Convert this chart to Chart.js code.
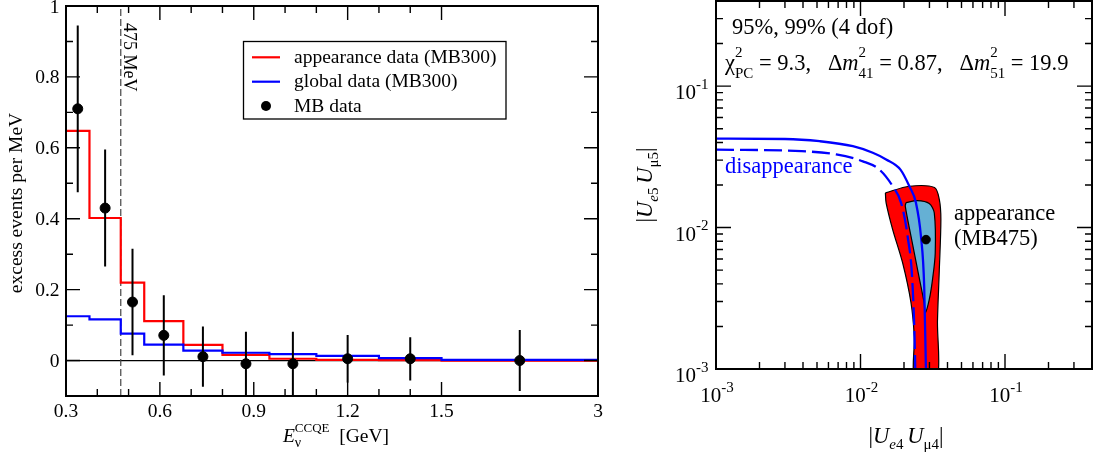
<!DOCTYPE html>
<html>
<head>
<meta charset="utf-8">
<script src="https://cdn.jsdelivr.net/npm/chart.js@4.4.0/dist/chart.umd.min.js"></script>
<style>
html, body { margin: 0; padding: 0; background: #fff; }
#wrap { position: relative; width: 1094px; height: 454px; overflow: hidden; }
#left { position: absolute; left: 0; top: 0; }
#right { position: absolute; left: 620px; top: 0; }
</style>
</head>
<body>
<div id="wrap">
<canvas id="left" width="620" height="454"></canvas>
<canvas id="right" width="474" height="454"></canvas>
</div>
<script>
// ---- left panel: MiniBooNE excess (GeV bins) ----
var binEdges = [0.3, 0.375, 0.475, 0.55, 0.675, 0.8, 0.95, 1.1, 1.3, 1.5, 3.0]
var appearance = [0.648, 0.402, 0.220, 0.111, 0.044, 0.016, 0.005, 0.002, 0.001, 0.0]
var globalFit = [0.125, 0.116, 0.076, 0.045, 0.028, 0.022, 0.018, 0.013, 0.007, 0.002]
var mbEnergy = [0.3375, 0.425, 0.5125, 0.6125, 0.7375, 0.875, 1.025, 1.2, 1.4, 2.25]
var mbExcess = [0.710, 0.430, 0.165, 0.071, 0.011, -0.009, -0.009, 0.005, 0.005, 0.0]
var mbError = [0.235, 0.165, 0.150, 0.113, 0.085, 0.09, 0.09, 0.067, 0.061, 0.086]
var cutE = 0.475
var xTickE = [0.3, 0.6, 0.9, 1.2, 1.5, 3]
var xTickText = ['0.3', '0.6', '0.9', '1.2', '1.5', '3']
var xMinorE = [0.4, 0.5, 0.7, 0.8, 1.0, 1.1, 1.3, 1.4]
var yTicks = [0, 0.2, 0.4, 0.6, 0.8, 1]
var yTickText = ['0', '0.2', '0.4', '0.6', '0.8', '1']
var yMinor = [0.1, 0.3, 0.5, 0.7, 0.9]

// ---- right panel: allowed regions ----
var red99X = [0.01487, 0.0218, 0.0325, 0.0351, 0.0360, 0.0351, 0.0341, 0.0336, 0.0239, 0.02355, 0.02237, 0.01957, 0.0167, 0.01504, 0.01487]
var red99Y = [0.0176, 0.0196, 0.0192, 0.0158, 0.0114, 0.0050, 0.0022, 0.0008, 0.0008, 0.0017, 0.00293, 0.00562, 0.00968, 0.01496, 0.0176]
var blue95X = [0.02065, 0.0247, 0.0299, 0.0324, 0.0329, 0.0315, 0.0299, 0.02805, 0.02759, 0.02483, 0.02237, 0.02041, 0.02065]
var blue95Y = [0.0150, 0.0155, 0.0148, 0.0127, 0.00662, 0.00429, 0.00309, 0.00249, 0.00293, 0.00504, 0.00868, 0.01417, 0.0150]
var disSolidX = [0.001, 0.003, 0.00521, 0.00885, 0.01216, 0.01504, 0.0189, 0.02178, 0.0242, 0.0262, 0.02759, 0.02836, 0.0285]
var disSolidY = [0.0425, 0.0423, 0.0408, 0.0376, 0.0338, 0.0303, 0.0257, 0.0196, 0.01496, 0.00868, 0.00384, 0.001, 0.0008]
var disDashX = [0.001, 0.0039, 0.00679, 0.01038, 0.01352, 0.0167, 0.0191, 0.02118, 0.02294, 0.02393, 0.024]
var disDashY = [0.0356, 0.0347, 0.0329, 0.0294, 0.0257, 0.0196, 0.01496, 0.00868, 0.00384, 0.001, 0.0008]
var bestFit = [0.0284, 0.00822]
var logMajor = [0.001, 0.01, 0.1]
var logMajorExp = ['-3', '-2', '-1']
var logMinor = [0.002, 0.003, 0.004, 0.005, 0.006, 0.007, 0.008, 0.009,
  0.02, 0.03, 0.04, 0.05, 0.06, 0.07, 0.08, 0.09, 0.2, 0.3]

var SERIF = '"Liberation Serif", "Times New Roman", serif'
function fnt(size, italic) { return (italic ? 'italic ' : '') + size + 'px ' + SERIF }

// last bin (1.5-3 GeV) is squeezed on the axis
function toU(e) { return e <= 1.5 ? e : 1.5 + (e - 1.5) / 3 }

function histPoints(vals) {
  var pts = vals.map(function(v, i) { return {x: toU(binEdges[i]), y: v} })
  pts.push({x: toU(binEdges[binEdges.length - 1]), y: vals[vals.length - 1]})
  return pts
}
function pairs(xs, ys) { return xs.map(function(x, i) { return {x: x, y: ys[i]} }) }

// fixed axis box sizes, no extra label padding
function fixSize(w, h) {
  return function(s) {
    if (w) s.width = w
    if (h) s.height = h
    s.paddingTop = s.paddingBottom = s.paddingLeft = s.paddingRight = 0
  }
}

// text with sub/superscripts, parts may hold a stack of pieces sharing one x
function rich(ctx, x, y, parts, align) {
  var widths = parts.map(function(p) {
    var items = p.stack || [p]
    return Math.max.apply(null, items.map(function(s) { ctx.font = s.f; return ctx.measureText(s.t).width }))
  })
  var total = widths.reduce(function(a, b) { return a + b }, 0)
  var cx = align === 'center' ? x - total / 2 : x
  ctx.textAlign = 'left'
  ctx.textBaseline = 'alphabetic'
  parts.forEach(function(p, i) {
    (p.stack || [p]).forEach(function(s) { ctx.font = s.f; ctx.fillText(s.t, cx, y + (s.dy || 0)) })
    cx += widths[i]
  })
}

function drawTicks(ctx, a, xs, ys, xv, yv, len) {
  ctx.beginPath()
  xv.forEach(function(v) {
    var px = xs.getPixelForValue(v)
    ctx.moveTo(px, a.bottom); ctx.lineTo(px, a.bottom - len)
    ctx.moveTo(px, a.top); ctx.lineTo(px, a.top + len)
  })
  yv.forEach(function(v) {
    var py = ys.getPixelForValue(v)
    ctx.moveTo(a.left, py); ctx.lineTo(a.left + len, py)
    ctx.moveTo(a.right, py); ctx.lineTo(a.right - len, py)
  })
  ctx.stroke()
}

var leftDecor = {
  id: 'leftDecor',
  beforeDatasetsDraw: function(chart) {
    var ctx = chart.ctx, a = chart.chartArea, xs = chart.scales.x, ys = chart.scales.y
    ctx.save()
    var y0 = ys.getPixelForValue(0)
    ctx.strokeStyle = '#000'
    ctx.lineWidth = 1.2
    ctx.beginPath(); ctx.moveTo(a.left, y0); ctx.lineTo(a.right, y0); ctx.stroke()
    var xc = xs.getPixelForValue(toU(cutE))
    ctx.strokeStyle = '#444'
    ctx.setLineDash([7, 3])
    ctx.beginPath(); ctx.moveTo(xc, a.bottom); ctx.lineTo(xc, a.top); ctx.stroke()
    ctx.restore()
  },
  afterDatasetsDraw: function(chart) {
    var ctx = chart.ctx, a = chart.chartArea, xs = chart.scales.x, ys = chart.scales.y
    ctx.save()
    ctx.beginPath(); ctx.rect(a.left, a.top, a.right - a.left, a.bottom - a.top); ctx.clip()
    ctx.strokeStyle = '#000'
    ctx.lineWidth = 2
    ctx.beginPath()
    mbEnergy.forEach(function(e, i) {
      var px = xs.getPixelForValue(toU(e))
      ctx.moveTo(px, ys.getPixelForValue(mbExcess[i] - mbError[i]))
      ctx.lineTo(px, ys.getPixelForValue(mbExcess[i] + mbError[i]))
    })
    ctx.stroke()
    ctx.restore()
  },
  afterDraw: function(chart) {
    var ctx = chart.ctx, a = chart.chartArea, xs = chart.scales.x, ys = chart.scales.y
    ctx.save()
    ctx.strokeStyle = '#000'
    ctx.fillStyle = '#000'
    ctx.lineWidth = 1.4
    drawTicks(ctx, a, xs, ys, xTickE.map(toU), yTicks, 14)
    drawTicks(ctx, a, xs, ys, xMinorE.map(toU), yMinor, 7)
    ctx.lineWidth = 2
    ctx.strokeRect(a.left, a.top, a.right - a.left, a.bottom - a.top)

    ctx.font = fnt(19.5)
    ctx.textAlign = 'center'
    ctx.textBaseline = 'alphabetic'
    xTickE.forEach(function(e, i) { ctx.fillText(xTickText[i], xs.getPixelForValue(toU(e)), a.bottom + 21) })
    ctx.textAlign = 'right'
    yTicks.forEach(function(v, i) { ctx.fillText(yTickText[i], a.left - 6.5, ys.getPixelForValue(v) + 6.5) })

    // axis titles
    rich(ctx, (a.left + a.right) / 2 + 4, 442, [
      {t: 'E', f: fnt(19.5, true)},
      {stack: [{t: '\u03bd', f: fnt(14), dy: 5}, {t: 'CCQE', f: fnt(13), dy: -10}]},
      {t: '  [GeV]', f: fnt(19.5)}
    ], 'center')
    ctx.save()
    ctx.translate(22, 203)
    ctx.rotate(-Math.PI / 2)
    ctx.font = fnt(19.5)
    ctx.textAlign = 'center'
    ctx.fillText('excess events per MeV', 0, 0)
    ctx.restore()

    // 475 MeV label
    ctx.save()
    ctx.translate(xs.getPixelForValue(toU(cutE)) + 3.5, 23)
    ctx.rotate(Math.PI / 2)
    ctx.font = fnt(18)
    ctx.textAlign = 'left'
    ctx.fillText('475 MeV', 0, 0)
    ctx.restore()

    // legend
    ctx.lineWidth = 1.3
    ctx.strokeRect(243.5, 41.5, 262.5, 77.5)
    ctx.lineWidth = 2.2
    ctx.strokeStyle = '#ff0000'
    ctx.beginPath(); ctx.moveTo(252, 57.3); ctx.lineTo(280, 57.3); ctx.stroke()
    ctx.strokeStyle = '#0000ff'
    ctx.beginPath(); ctx.moveTo(252, 81.7); ctx.lineTo(280, 81.7); ctx.stroke()
    ctx.beginPath(); ctx.arc(266, 106, 5, 0, Math.PI * 2); ctx.fill()
    ctx.font = fnt(19.5)
    ctx.textAlign = 'left'
    ctx.fillText('appearance data (MB300)', 294, 62.5)
    ctx.fillText('global data (MB300)', 294, 87)
    ctx.fillText('MB data', 294, 111.5)
    ctx.restore()
  }
}

var OFF = 620
function powLabel(ctx, x, y, exp, align) {
  var parts = [{t: '10', f: fnt(21)}, {t: exp, f: fnt(15), dy: -10.5}]
  rich(ctx, x, y, parts, align)
}

var rightDecor = {
  id: 'rightDecor',
  afterDraw: function(chart) {
    var ctx = chart.ctx, a = chart.chartArea, xs = chart.scales.x, ys = chart.scales.y
    ctx.save()
    ctx.strokeStyle = '#000'
    ctx.fillStyle = '#000'
    ctx.lineWidth = 1.4
    drawTicks(ctx, a, xs, ys, logMajor, logMajor, 15)
    drawTicks(ctx, a, xs, ys, logMinor, logMinor, 7)
    ctx.lineWidth = 2
    ctx.strokeRect(a.left, a.top, a.right - a.left, a.bottom - a.top)

    logMajor.forEach(function(v, i) {
      powLabel(ctx, xs.getPixelForValue(v) + 1, a.bottom + 33, logMajorExp[i], 'center')
      powLabel(ctx, 675 - OFF, ys.getPixelForValue(v) + 13, logMajorExp[i], 'left')
    })

    var big = fnt(22.5), bigI = fnt(22.5, true), sm = fnt(15), smI = fnt(15, true)
    rich(ctx, (a.left + a.right) / 2 + 2, 443, [
      {t: '|', f: big}, {t: 'U', f: bigI}, {t: 'e', f: smI, dy: 6}, {t: '4 ', f: sm, dy: 6},
      {t: 'U', f: bigI}, {t: '\u03bc4', f: sm, dy: 6}, {t: '|', f: big}
    ], 'center')
    ctx.save()
    ctx.translate(652 - OFF, (a.top + a.bottom) / 2)
    ctx.rotate(-Math.PI / 2)
    rich(ctx, 0, 0, [
      {t: '|', f: big}, {t: 'U', f: bigI}, {t: 'e', f: smI, dy: 6}, {t: '5 ', f: sm, dy: 6},
      {t: 'U', f: bigI}, {t: '\u03bc5', f: sm, dy: 6}, {t: '|', f: big}
    ], 'center')
    ctx.restore()

    ctx.font = big
    ctx.textAlign = 'left'
    ctx.fillText('95%, 99% (4 dof)', 732 - OFF, 34)
    rich(ctx, 725 - OFF, 70, [
      {t: '\u03c7', f: big},
      {stack: [{t: '2', f: sm, dy: -13}, {t: 'PC', f: sm, dy: 8}]},
      {t: ' = 9.3,   \u0394', f: big}, {t: 'm', f: bigI},
      {stack: [{t: '2', f: sm, dy: -13}, {t: '41', f: sm, dy: 8}]},
      {t: ' = 0.87,   \u0394', f: big}, {t: 'm', f: bigI},
      {stack: [{t: '2', f: sm, dy: -13}, {t: '51', f: sm, dy: 8}]},
      {t: ' = 19.9', f: big}
    ], 'left')
    ctx.font = big
    ctx.textAlign = 'left'
    ctx.fillText('appearance', 954 - OFF, 220)
    ctx.fillText('(MB475)', 954 - OFF, 245)
    ctx.fillStyle = '#0000ff'
    ctx.fillText('disappearance', 725 - OFF, 173)
    ctx.restore()
  }
}

new Chart(document.getElementById('left'), {
  type: 'scatter',
  data: {
    datasets: [
      {label: 'MB data', data: mbEnergy.map(function(e, i) { return {x: toU(e), y: mbExcess[i]} }),
        pointRadius: 5, pointBackgroundColor: '#000', pointBorderColor: '#000', showLine: false, order: 0},
      {label: 'global data (MB300)', data: histPoints(globalFit), borderColor: '#0000ff', borderWidth: 2.2,
        stepped: 'before', showLine: true, pointRadius: 0, fill: false, order: 1},
      {label: 'appearance data (MB300)', data: histPoints(appearance), borderColor: '#ff0000', borderWidth: 2.2,
        stepped: 'before', showLine: true, pointRadius: 0, fill: false, order: 2}
    ]
  },
  options: {
    responsive: false,
    animation: false,
    events: [],
    layout: {autoPadding: false, padding: {top: 6, right: 22, left: 0, bottom: 0}},
    plugins: {legend: {display: false}, tooltip: {enabled: false}},
    scales: {
      x: {type: 'linear', min: toU(0.3), max: toU(3), grid: {display: false}, border: {display: false},
        ticks: {display: false}, afterFit: fixSize(0, 58)},
      y: {type: 'linear', min: -0.1, max: 1, grid: {display: false}, border: {display: false},
        ticks: {display: false}, afterFit: fixSize(66, 0)}
    }
  },
  plugins: [leftDecor]
})

new Chart(document.getElementById('right'), {
  type: 'scatter',
  data: {
    datasets: [
      {label: 'best fit', data: [{x: bestFit[0], y: bestFit[1]}], pointRadius: 4.3,
        pointBackgroundColor: '#000', pointBorderColor: '#000', showLine: false, order: 0},
      {label: 'disappearance 99%', data: pairs(disSolidX, disSolidY), borderColor: '#0000ff', borderWidth: 2.3,
        showLine: true, pointRadius: 0, cubicInterpolationMode: 'monotone', fill: false, order: 1},
      {label: 'disappearance 95%', data: pairs(disDashX, disDashY), borderColor: '#0000ff', borderWidth: 2.3,
        borderDash: [18, 6], showLine: true, pointRadius: 0, cubicInterpolationMode: 'monotone', fill: false, order: 2},
      {label: 'appearance 95%', data: pairs(blue95X, blue95Y), borderColor: '#000', borderWidth: 1.2,
        backgroundColor: '#65b0d4', showLine: true, pointRadius: 0, tension: 0.3, fill: 'shape', order: 3},
      {label: 'appearance 99%', data: pairs(red99X, red99Y), borderColor: '#000', borderWidth: 1.2,
        backgroundColor: '#ff0000', showLine: true, pointRadius: 0, tension: 0.3, fill: 'shape', order: 4}
    ]
  },
  options: {
    responsive: false,
    animation: false,
    events: [],
    layout: {autoPadding: false, padding: {top: 1, right: 2, left: 0, bottom: 0}},
    plugins: {legend: {display: false}, tooltip: {enabled: false}},
    scales: {
      x: {type: 'logarithmic', min: 0.001, max: 0.4, grid: {display: false}, border: {display: false},
        ticks: {display: false}, afterFit: fixSize(0, 85)},
      y: {type: 'logarithmic', min: 0.001, max: 0.4, grid: {display: false}, border: {display: false},
        ticks: {display: false}, afterFit: fixSize(96, 0)}
    }
  },
  plugins: [rightDecor]
})
</script>
</body>
</html>
